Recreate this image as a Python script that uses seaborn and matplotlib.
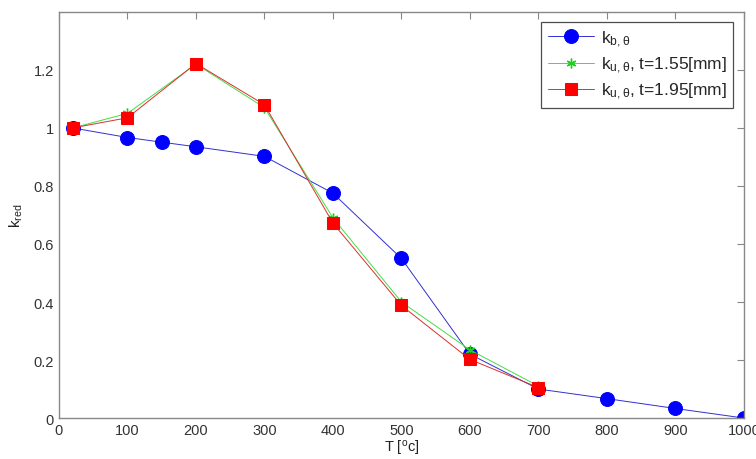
import pandas as pd
import matplotlib
matplotlib.use('Agg')
import matplotlib.pyplot as plt
import seaborn as sns

# temperatures [deg C]
t_b = [20, 100, 150, 200, 300, 400, 500, 600, 700, 800, 900, 1000]
k_b = [1.0, 0.967, 0.951, 0.935, 0.902, 0.775, 0.55, 0.22, 0.10, 0.067, 0.033, 0.0]

t_u = [20, 100, 200, 300, 400, 500, 600, 700]
k_u155 = [1.0, 1.05, 1.22, 1.07, 0.69, 0.40, 0.235, 0.11]
k_u195 = [1.0, 1.035, 1.222, 1.08, 0.672, 0.388, 0.202, 0.105]

x_ticks = [0, 100, 200, 300, 400, 500, 600, 700, 800, 900, 1000]
y_ticks = [0, 0.2, 0.4, 0.6, 0.8, 1, 1.2]

sns.set_style('white')
plt.rcParams['font.family'] = ['Liberation Sans', 'DejaVu Sans']
plt.rcParams['mathtext.fontset'] = 'custom'
plt.rcParams['mathtext.rm'] = 'Liberation Sans'
plt.rcParams['mathtext.it'] = 'Liberation Sans'

fig = plt.figure(figsize=(7.56, 4.6), dpi=100)
ax = fig.add_axes([0.078, 0.089, 0.906, 0.883])

df_b = pd.DataFrame({'T': t_b, 'k': k_b})
df_1 = pd.DataFrame({'T': t_u, 'k': k_u155})
df_2 = pd.DataFrame({'T': t_u, 'k': k_u195})

sns.lineplot(data=df_b, x='T', y='k', ax=ax, color='#3030d0', lw=0.7,
             marker='o', markersize=10, markerfacecolor='#0000ff',
             markeredgecolor='#0000ff', label=r'$\mathregular{k_{b,\theta}}$')
sns.lineplot(data=df_1, x='T', y='k', ax=ax, color='#44dd44', lw=0.7,
             marker=(6, 2, 0), markersize=7, markeredgecolor='#22cc22',
             markeredgewidth=1.0, label=r'$\mathregular{k_{u,\theta}}$, t=1.55[mm]')
sns.lineplot(data=df_2, x='T', y='k', ax=ax, color='#d83030', lw=0.7,
             marker='s', markersize=8, markerfacecolor='#ff0000',
             markeredgecolor='#ff0000', label=r'$\mathregular{k_{u,\theta}}$, t=1.95[mm]')

ax.set_xlim(0, 1000)
ax.set_ylim(0, 1.4)
ax.set_xticks(x_ticks)
ax.set_yticks(y_ticks)
ax.set_yticklabels(['0', '0.2', '0.4', '0.6', '0.8', '1', '1.2'])
ax.tick_params(direction='in', length=5, width=0.8, colors='#888888',
               labelcolor='#333333', labelsize=10.5, top=True, right=True)
for s in ax.spines.values():
    s.set_color('#888888')
    s.set_linewidth(1.0)

ax.set_xlabel(r'T [$\mathregular{^o}$c]', fontsize=10.5, color='#222222', labelpad=1)
ax.set_ylabel(r'$\mathregular{k_{red}}$', fontsize=11, color='#222222', labelpad=6)

leg = ax.legend(loc='upper right', fontsize=12.5, frameon=True, fancybox=False,
                edgecolor='#222222', borderaxespad=0.6, handlelength=2.7,
                handletextpad=0.4, labelspacing=0.35, borderpad=0.35)
leg.get_frame().set_linewidth(0.9)

fig.savefig('out.png', dpi=100)
